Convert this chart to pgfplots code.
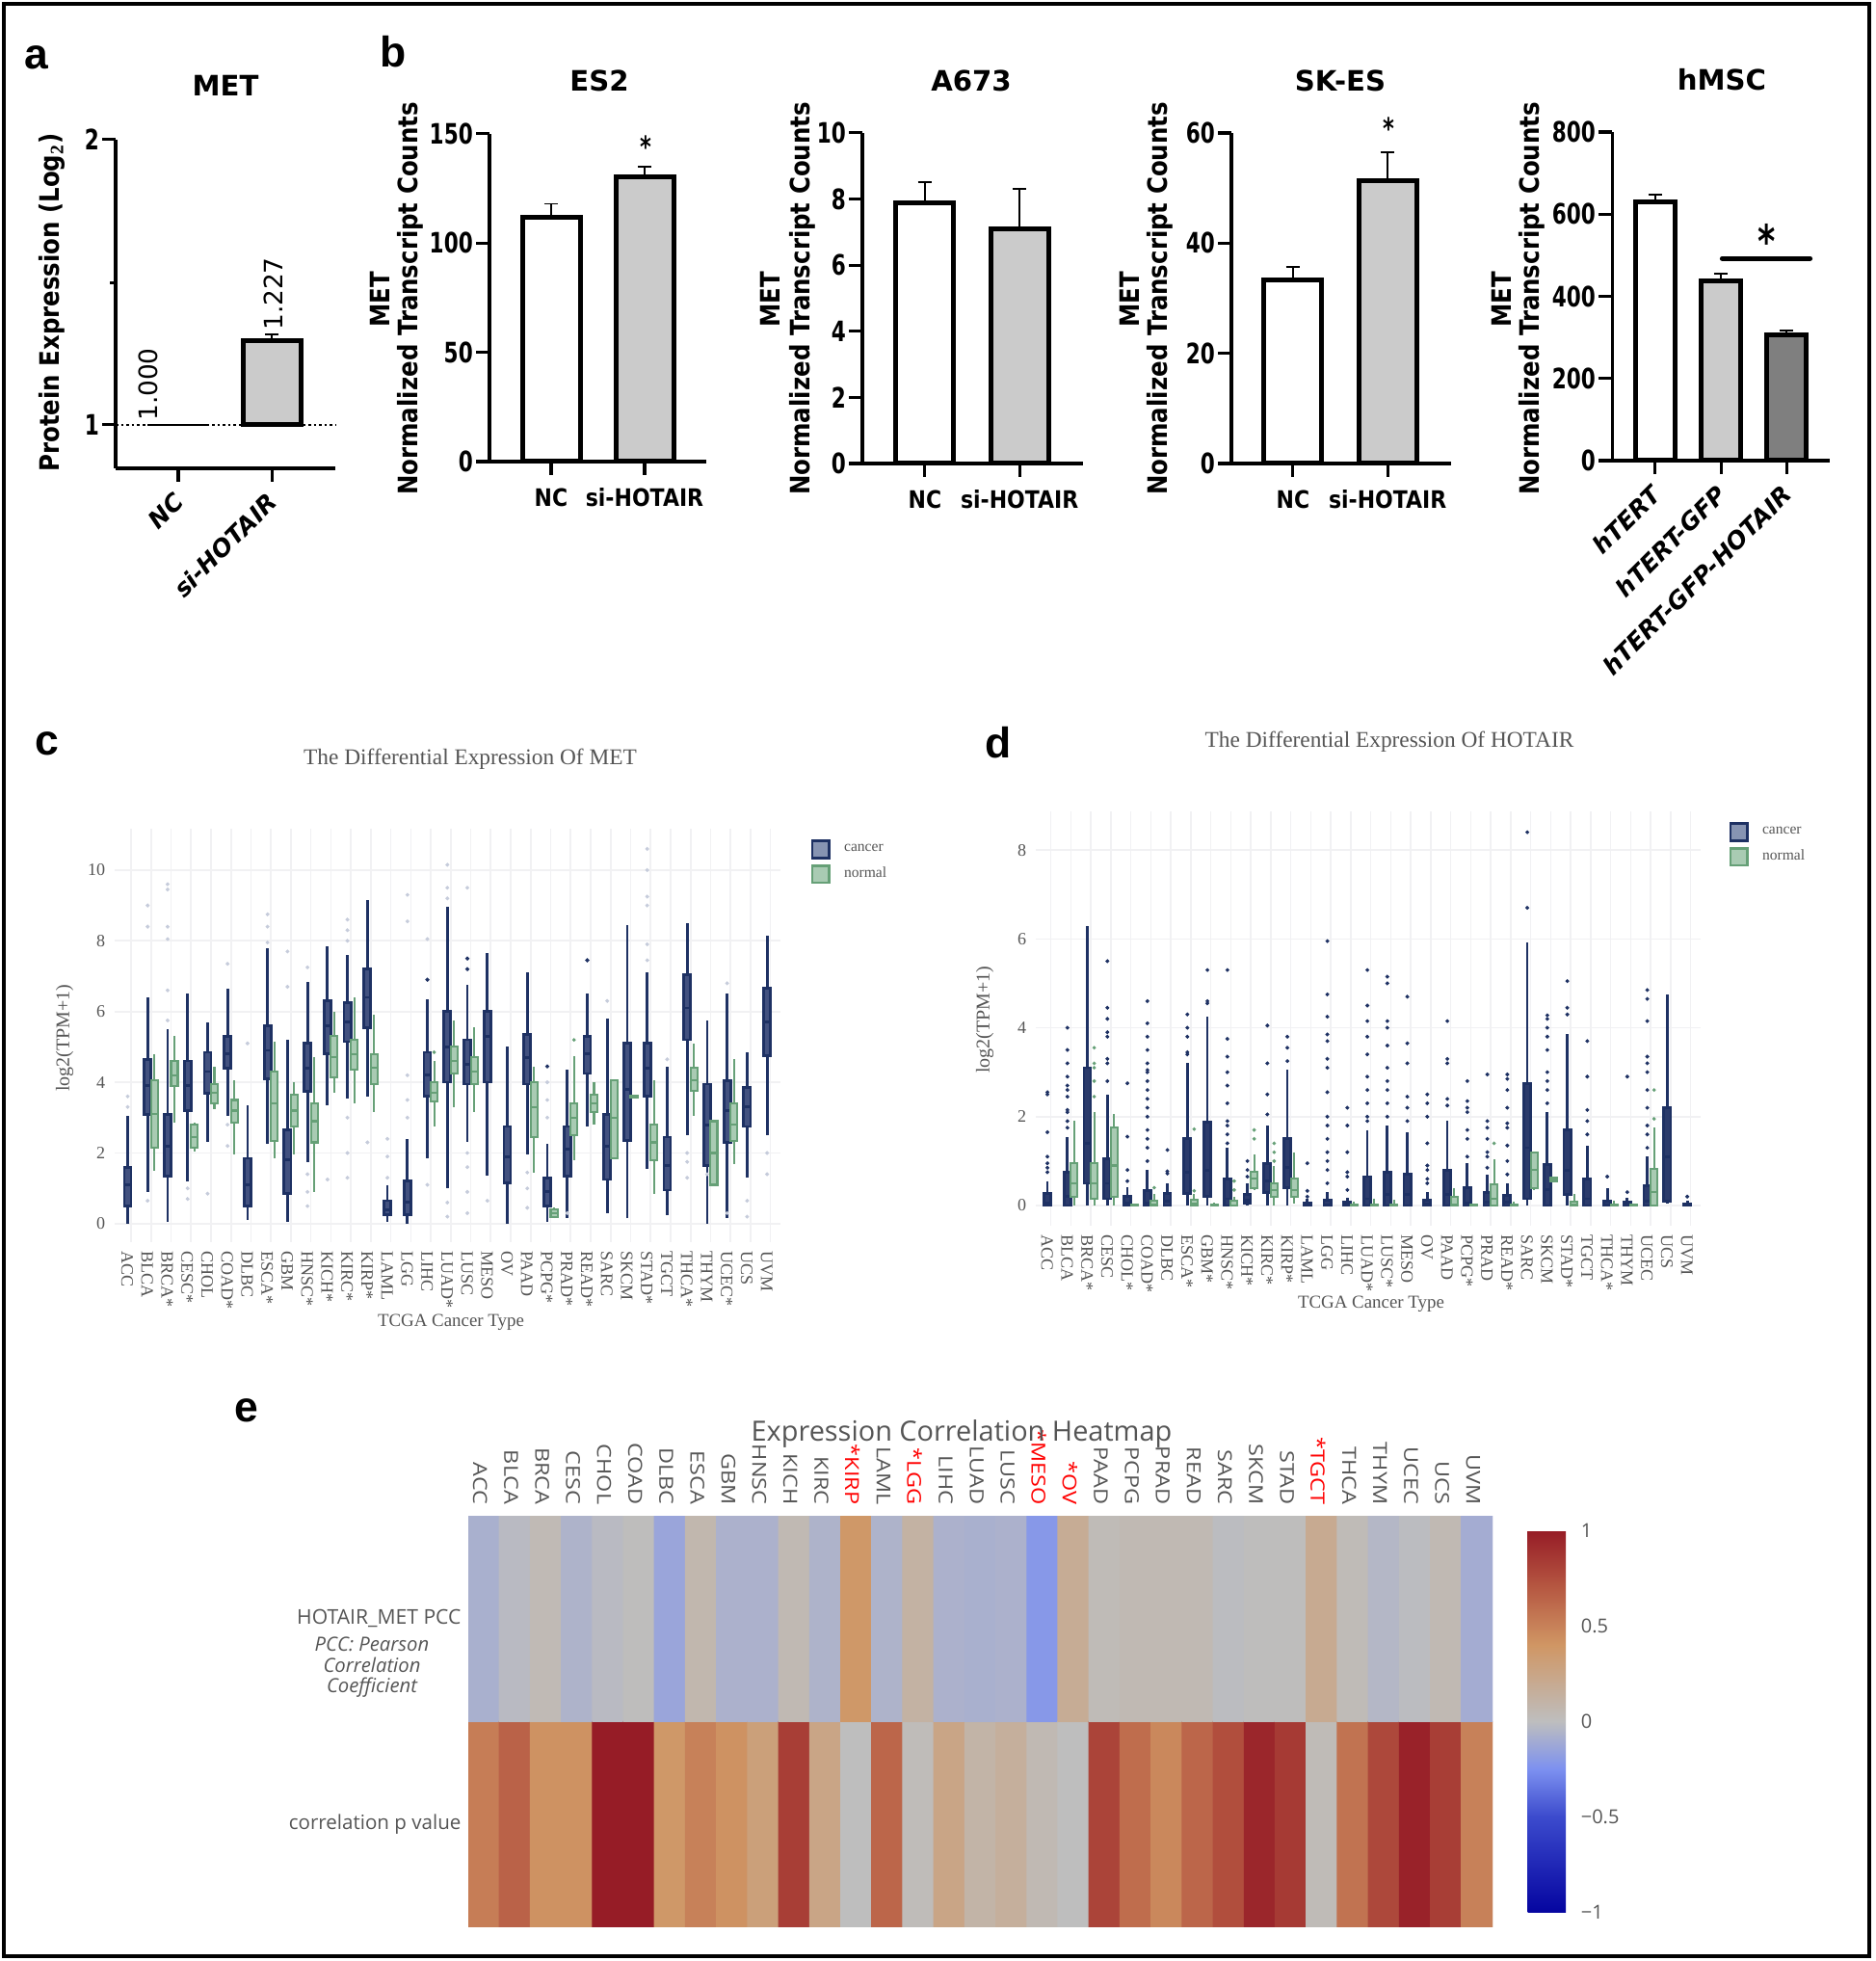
\documentclass[border=0pt]{standalone}
\usepackage{fontspec}
\usepackage{pgfplots}
\pgfplotsset{compat=1.18}
\usepgfplotslibrary{statistics}
\setmainfont{Liberation Serif}
\newfontfamily\gpfont{DejaVu Sans}
\newfontfamily\gpcond[FakeStretch=0.74]{DejaVu Sans}
\newfontfamily\gptick[FakeStretch=0.88]{DejaVu Sans}
\newfontfamily\gplab[FakeStretch=0.88]{DejaVu Sans}
\newfontfamily\arial{Liberation Sans}
\newfontfamily\osans{Open Sans}
\newfontfamily\oswide[FakeStretch=1.17]{Open Sans}
\newcommand\fs[1]{\fontsize{#1}{#1}\selectfont}

% page coordinates: 1 image pixel = 0.36pt, y counted from the top
\newcommand\X[1]{\fpeval{0.36*(#1)}pt}
\newcommand\Y[1]{\fpeval{0.36*(2035-#1)}pt}
\newcommand\W[1]{\fpeval{0.36*(#1)}pt}

\definecolor{navy}{HTML}{1E3163}
\definecolor{navyfill}{HTML}{8794B2}
\definecolor{grn}{HTML}{66A077}
\definecolor{grnfill}{HTML}{A9CBB3}
\definecolor{gridc}{HTML}{F1F1F3}
\definecolor{txt}{HTML}{555555}
\definecolor{barg}{HTML}{CBCBCB}
\definecolor{bard}{HTML}{7F7F7F}
\definecolor{outCfaint}{HTML}{C6CCDB}

\pgfplotsset{
  colormap={hm}{rgb255(0)=(5,5,160) rgb255(50)=(60,75,205) rgb255(75)=(125,145,240) rgb255(100)=(190,190,190)
    rgb255(140)=(208,150,100) rgb255(170)=(182,88,66) rgb255(200)=(150,28,38)},
  gpaxis/.style={
    scale only axis, ybar, bar shift=0pt, clip=false,
    axis lines=left, axis line style={-, line width=1.1pt},
    tick align=outside, major tick length=5pt,
    tick style={black, line width=1.1pt},
    /pgf/number format/assume math mode=true,
    yticklabel style={font=\gpcond\bfseries\fs{10.5}, inner sep=1pt},
    xticklabel style={font=\gptick\bfseries\fs{9}, yshift=-1.5pt},
    xtick={0,1},
  },
  errb/.style={line width=1.8pt, draw=black, error bars/.cd, y dir=plus, y explicit,
    error bar style={line width=.7pt, black, solid},
    error mark options={rotate=90, line width=.7pt, mark size=2.6pt, black}},
  tiltx/.style={xticklabel style={font=\gpfont\bfseries\itshape\fs{9}, rotate=45, anchor=north east, yshift=3.6pt, xshift=.5pt}},
  boxaxis/.style={
    scale only axis, clip=false,
    axis line style={draw=none}, major tick length=0pt,
    /pgf/number format/assume math mode=true,
    grid=major, grid style={gridc, line width=.6pt},
    xtick={0,...,32}, ytick={0,2,...,10},
    yticklabel style={font=\fs{6.5}, text=txt},
    xticklabel style={font=\fs{6.5}, text=txt, rotate=-90, anchor=west, inner sep=0pt, xshift=3.2pt, yshift=-1.4pt},
    legend cell align=left,
    legend style={draw=none, fill=none, anchor=north west, font=\fs{5.6}, text=txt, row sep=.4pt,
      /tikz/every odd column/.append style={column sep=3pt}},
    legend image code/.code={\draw[##1] (0pt,-3.2pt) rectangle (6.4pt,3.2pt);},
  },
  cancerbox/.style={draw=navy, fill=boxF, solid, line width=1pt},
  normalbox/.style={draw=grn, fill=grnfill, solid, line width=.75pt},
  cancerdots/.style={only marks, color=\outC, xshift=-1.27pt, mark=*, mark size=\outS, mark options={solid}},
  normaldots/.style={only marks, color=grn, xshift=1.27pt, mark=*, mark size=.45pt, mark options={solid}},
}
% position, low whisker, q1, median, q3, high whisker, outliers
\newcommand\boxC[7]{\addplot[cancerbox, boxplot prepared={draw direction=y, draw position=#1-0.17, box extend=0.34, whisker extend=0,
  lower whisker=#2, lower quartile=#3, median=#4, upper quartile=#5, upper whisker=#6}] coordinates {};
  \addplot[cancerdots] coordinates {#7};}
\newcommand\boxN[7]{\addplot[normalbox, boxplot prepared={draw direction=y, draw position=#1+0.17, box extend=0.34, whisker extend=0,
  lower whisker=#2, lower quartile=#3, median=#4, upper quartile=#5, upper whisker=#6}] coordinates {};
  \addplot[normaldots] coordinates {#7};}

\begin{document}
\begin{tikzpicture}
\useasboundingbox (0,0) rectangle (700.56pt,732.6pt);
\draw[line width=1.5pt] (\X{4},\Y{4}) rectangle (\X{1940},\Y{2030});

% ---- a
\begin{axis}[gpaxis, tiltx, at={(\X{120},\Y{486})}, width=\W{228}, height=\W{341},
  ymode=log, log basis y=2, ymin=0.9, ymax=2, xmin=-0.67, xmax=1.68, bar width=\W{60},
  ytick={1,2}, yticklabels={1,2}, extra y ticks={1.414}, extra y tick labels={},
  extra y tick style={major tick length=2pt},
  xticklabels={NC,si-HOTAIR}]
\addplot[fill=white, line width=.4pt, draw=black] coordinates {(0,1)};
\addplot[fill=barg, errb] coordinates {(1,1.227) +- (0,0.018)};
\addplot[sharp plot, densely dotted, line width=1pt, black] coordinates {(-0.67,1)(1.68,1)};
\end{axis}
\node[font=\gpfont\fs{9.5}, rotate=90] at (\X{154},\Y{399}) {1.000};
\node[font=\gpfont\fs{9.5}, rotate=90] at (\X{284},\Y{305}) {1.227};
\node[font=\gpfont\bfseries\fs{10.5}] at (\X{234},\Y{89}) {MET};
\node[font=\gplab\bfseries\fs{10}, rotate=90] at (\X{54},\Y{314}) {Protein Expression (Log$_{\mathbf 2}$)};
\node[font=\arial\bfseries\fs{16}] at (\X{38},\Y{60}) {a};
\node[font=\arial\bfseries\fs{16}] at (\X{408},\Y{54}) {b};
\node[font=\arial\bfseries\fs{16}] at (\X{49},\Y{772}) {c};
\node[font=\arial\bfseries\fs{16}] at (\X{1036},\Y{771}) {d};
\node[font=\arial\bfseries\fs{16}] at (\X{256},\Y{1464}) {e};

% ---- b, ES2
\begin{axis}[gpaxis, at={(\X{508},\Y{479})}, width=\W{225}, height=\W{340},
  ymin=0, ymax=150, xmin=-0.66, xmax=1.66, bar width=\W{60},
  ytick={0,50,100,150}, xticklabels={NC,si-HOTAIR}]
\addplot[fill=white, errb] coordinates {(0,112) +- (0,6)};
\addplot[fill=barg, errb] coordinates {(1,130.5) +- (0,4.5)};
\end{axis}
\node[font=\gpfont\bfseries\fs{10.5}] at (\X{622},\Y{84}) {ES2};
\node[font=\gpcond\bfseries\fs{11}] at (\X{670},\Y{152}) {*};
\node[font=\gplab\bfseries\fs{10}, rotate=90] at (\X{394},\Y{311}) {MET};
\node[font=\gplab\bfseries\fs{10}, rotate=90] at (\X{426},\Y{310}) {Normalized Transcript Counts};

% ---- b, A673
\begin{axis}[gpaxis, at={(\X{895},\Y{481})}, width=\W{229}, height=\W{343},
  ymin=0, ymax=10, xmin=-0.66, xmax=1.67, bar width=\W{60},
  ytick={0,2,...,10}, xticklabels={NC,si-HOTAIR}]
\addplot[fill=white, errb] coordinates {(0,7.9) +- (0,0.6)};
\addplot[fill=barg, errb] coordinates {(1,7.1) +- (0,1.2)};
\end{axis}
\node[font=\gpfont\bfseries\fs{10.5}] at (\X{1008},\Y{84}) {A673};
\node[font=\gplab\bfseries\fs{10}, rotate=90] at (\X{799},\Y{311}) {MET};
\node[font=\gplab\bfseries\fs{10}, rotate=90] at (\X{833},\Y{310}) {Normalized Transcript Counts};

% ---- b, SK-ES
\begin{axis}[gpaxis, at={(\X{1278},\Y{481})}, width=\W{228}, height=\W{343},
  ymin=0, ymax=60, xmin=-0.65, xmax=1.67, bar width=\W{60},
  ytick={0,20,40,60}, xticklabels={NC,si-HOTAIR}]
\addplot[fill=white, errb] coordinates {(0,33.3) +- (0,2.4)};
\addplot[fill=barg, errb] coordinates {(1,51.3) +- (0,5.2)};
\end{axis}
\node[font=\gpfont\bfseries\fs{10.5}] at (\X{1391},\Y{84}) {SK-ES};
\node[font=\gpcond\bfseries\fs{11}] at (\X{1441},\Y{133}) {*};
\node[font=\gplab\bfseries\fs{10}, rotate=90] at (\X{1172},\Y{311}) {MET};
\node[font=\gplab\bfseries\fs{10}, rotate=90] at (\X{1204},\Y{310}) {Normalized Transcript Counts};

% ---- b, hMSC
\begin{axis}[gpaxis, tiltx, at={(\X{1673},\Y{478})}, width=\W{226}, height=\W{341},
  ymin=0, ymax=800, xmin=-0.66, xmax=2.66, bar width=\W{41},
  ytick={0,200,...,800}, xtick={0,1,2}, xticklabels={hTERT,hTERT-GFP,hTERT-GFP-HOTAIR}]
\addplot[fill=white, errb] coordinates {(0,630) +- (0,18)};
\addplot[fill=barg, errb] coordinates {(1,438) +- (0,16)};
\addplot[fill=bard, errb] coordinates {(2,306) +- (0,10)};
\addplot[sharp plot, line width=1.8pt, black, line cap=round] coordinates {(1.02,492)(2.36,492)};
\end{axis}
\node[font=\gpfont\bfseries\fs{10.5}] at (\X{1787},\Y{83}) {hMSC};
\node[font=\gpcond\bfseries\fs{17}] at (\X{1834},\Y{250}) {*};
\node[font=\gplab\bfseries\fs{10}, rotate=90] at (\X{1558},\Y{311}) {MET};
\node[font=\gplab\bfseries\fs{10}, rotate=90] at (\X{1590},\Y{310}) {Normalized Transcript Counts};

% ---- c
\def\outC{outCfaint}
\definecolor{boxF}{HTML}{42517F}
\def\outS{.5pt}
\begin{axis}[boxaxis, at={(\X{119},\Y{1289})}, width=\W{691}, height=\W{429},
  xmin=-0.82, xmax=32.5, ymin=-0.52, ymax=11.17,
  legend style={at={(axis description cs:1.033,0.99)}},
  xticklabels={ACC,BLCA,BRCA*,CESC*,CHOL,COAD*,DLBC,ESCA*,GBM,HNSC*,KICH*,KIRC*,KIRP*,LAML,LGG,LIHC,LUAD*,LUSC,MESO,OV,PAAD,PCPG*,PRAD*,READ*,SARC,SKCM,STAD*,TGCT,THCA*,THYM,UCEC*,UCS,UVM}]
\addlegendimage{draw=navy, fill=navyfill, line width=1pt}
\addlegendentry{cancer}
\addlegendimage{draw=grn, fill=grnfill, line width=1pt}
\addlegendentry{normal}
\boxC{0}{0}{0.5}{1.1}{1.6}{3.05}{(0,3.3)(0,3.6)}
\boxC{1}{0.9}{3.1}{3.9}{4.65}{6.4}{(1,8.4)(1,9)(1,0.65)}
\boxN{1}{1.5}{2.15}{3.1}{4.05}{4.8}{}
\boxC{2}{0.05}{1.35}{2.2}{3.1}{5.5}{(2,8.05)(2,8.4)(2,9.45)(2,9.6)(2,6.6)(2,5.75)}
\boxN{2}{2.85}{3.9}{4.2}{4.6}{5.3}{}
\boxC{3}{1.2}{3.2}{3.9}{4.6}{6.5}{(3,1)(3,0.7)}
\boxN{3}{2.05}{2.15}{2.45}{2.8}{2.85}{}
\boxC{4}{2.3}{3.7}{4.3}{4.85}{5.7}{(4,0.85)}
\boxN{4}{3.25}{3.4}{3.7}{3.95}{4.45}{}
\boxC{5}{3.05}{4.4}{4.8}{5.3}{6.65}{(5,7.35)(5,2.2)(5,2.8)}
\boxN{5}{1.95}{2.85}{3.2}{3.5}{4.05}{}
\boxC{6}{0.1}{0.5}{1.1}{1.85}{3.35}{(6,5.1)}
\boxC{7}{2.25}{4.1}{4.9}{5.6}{7.8}{(7,8.4)(7,8.75)(7,7.95)}
\boxN{7}{1.85}{2.35}{3.4}{4.3}{5.15}{}
\boxC{8}{0.05}{0.85}{1.8}{2.65}{5.2}{(8,6.7)(8,7.7)}
\boxN{8}{1.95}{2.75}{3.2}{3.65}{4}{}
\boxC{9}{1.75}{3.75}{4.4}{5.1}{6.85}{(9,7.25)(9,1.4)(9,0.5)(9,0.9)}
\boxN{9}{0.9}{2.3}{2.9}{3.4}{4.7}{}
\boxC{10}{3.35}{4.8}{5.6}{6.3}{7.85}{(10,1.25)}
\boxN{10}{3.7}{4.15}{4.7}{5.3}{6}{}
\boxC{11}{3.55}{5.15}{5.7}{6.25}{7.6}{(11,8)(11,8.3)(11,8.6)(11,1.3)(11,2)(11,3)}
\boxN{11}{3.4}{4.35}{4.8}{5.2}{6.4}{}
\boxC{12}{3.6}{5.55}{6.4}{7.2}{9.15}{(12,2.3)}
\boxN{12}{3.15}{3.95}{4.4}{4.8}{5.9}{}
\boxC{13}{0.05}{0.25}{0.4}{0.65}{1.1}{(13,1.3)(13,1.9)(13,2.4)}
\boxC{14}{0}{0.25}{0.6}{1.2}{2.4}{(14,8.55)(14,9.3)(14,4.2)(14,3.5)(14,3)}
\boxC{15}{1.85}{3.6}{4.2}{4.85}{6.35}{(15,8.05)(15,1.1)}
\boxN{15}{2.75}{3.45}{3.7}{4}{4.6}{(15,4.85)}
\boxC{16}{1}{4}{5}{6}{8.95}{(16,9.2)(16,9.5)(16,10.15)(16,0.2)(16,0.6)}
\boxN{16}{3.3}{4.25}{4.6}{5}{5.75}{}
\boxC{17}{2.3}{3.95}{4.5}{5.2}{6.75}{(17,9.5)(17,0.9)(17,0.3)(17,1.6)(17,2)}
\boxN{17}{3.15}{3.95}{4.3}{4.7}{5.55}{}
\boxC{18}{1.35}{4}{5.3}{6}{7.65}{(18,0.65)}
\boxC{19}{0}{1.15}{1.9}{2.75}{5}{}
\boxC{20}{1.95}{3.95}{4.7}{5.35}{7.1}{(20,0.45)(20,1)(20,1.45)}
\boxN{20}{1.45}{2.45}{3.3}{4}{4.45}{}
\boxC{21}{0.05}{0.5}{0.9}{1.3}{2.25}{(21,3)(21,3.5)(21,4)}
\boxN{21}{0.15}{0.2}{0.3}{0.4}{0.45}{}
\boxC{22}{0.15}{1.35}{2.1}{2.75}{4.35}{(22,0.3)}
\boxN{22}{1.8}{2.5}{3}{3.4}{4.75}{(22,5.2)}
\boxC{23}{2.75}{4.25}{4.8}{5.3}{6.5}{}
\boxN{23}{2.8}{3.15}{3.4}{3.65}{4}{}
\boxC{24}{0.3}{1.25}{2.2}{3.1}{5.8}{(24,6.3)}
\boxN{24}{1.85}{1.85}{3}{4.05}{4.05}{}
\boxC{25}{0.15}{2.35}{3.8}{5.1}{8.45}{}
\boxN{25}{3.58}{3.58}{3.6}{3.62}{3.62}{}
\boxC{26}{1.55}{3.6}{4.4}{5.1}{7.1}{(26,7.9)(26,7.45)(26,9)(26,9.25)(26,10)(26,10.6)}
\boxN{26}{0.85}{1.8}{2.3}{2.8}{4.05}{}
\boxC{27}{0.25}{0.95}{1.65}{2.45}{4.45}{(27,4.65)}
\boxC{28}{2.5}{5.2}{6.1}{7.05}{8.5}{(28,1.3)(28,1.75)(28,2)}
\boxN{28}{3.05}{3.75}{4.05}{4.4}{5.1}{}
\boxC{29}{0}{1.65}{2.8}{3.95}{5.75}{(29,1.4)}
\boxN{29}{1.1}{1.1}{2}{2.9}{2.9}{}
\boxC{30}{0.15}{2.3}{3.2}{4.05}{6.5}{(30,6.8)(30,0.3)}
\boxN{30}{1.7}{2.35}{2.8}{3.4}{4.65}{}
\boxC{31}{1.3}{2.75}{3.3}{3.85}{4.85}{(31,0.65)(31,0.2)}
\boxC{32}{2.5}{4.75}{5.7}{6.65}{8.15}{(32,1.4)(32,2)}
% the few dark outliers
\addplot[only marks, color=navy, xshift=-1.27pt, mark=*, mark size=.55pt] coordinates {(15,6.9)(17,7.5)(17,7.2)(21,4.45)(23,7.45)};
\end{axis}
\node[font=\fs{8.4}, text=txt] at (\X{488},\Y{788}) {The Differential Expression Of MET};
\node[font=\fs{6.8}, text=txt] at (\X{468},\Y{1372}) {TCGA Cancer Type};
\node[font=\fs{7.2}, text=txt, rotate=90] at (\X{67},\Y{1077}) {log2(TPM+1)};

% ---- d
\def\outC{navy}
\definecolor{boxF}{HTML}{2B3B6B}
\def\outS{.5pt}
\begin{axis}[boxaxis, at={(\X{1075},\Y{1272})}, width=\W{690}, height=\W{430},
  xmin=-0.75, xmax=32.5, ymin=-0.455, ymax=8.87, ytick={0,2,...,8},
  legend style={at={(axis description cs:1.03,0.99)}},
  xticklabels={ACC,BLCA,BRCA*,CESC,CHOL*,COAD*,DLBC,ESCA*,GBM*,HNSC*,KICH*,KIRC*,KIRP*,LAML,LGG,LIHC,LUAD*,LUSC*,MESO,OV,PAAD,PCPG*,PRAD,READ*,SARC,SKCM,STAD*,TGCT,THCA*,THYM,UCEC,UCS,UVM}]
\addlegendimage{draw=navy, fill=navyfill, line width=1pt}
\addlegendentry{cancer}
\addlegendimage{draw=grn, fill=grnfill, line width=1pt}
\addlegendentry{normal}
\boxC{0}{0}{0}{0.05}{0.27}{0.55}{(0,0.75)(0,0.85)(0,0.95)(0,1.1)(0,1.65)(0,2.5)(0,2.55)}
\boxC{1}{0}{0}{0.2}{0.75}{1.55}{(1,1.75)(1,1.9)(1,2.1)(1,2.15)(1,2.45)(1,2.6)(1,2.7)(1,2.9)(1,3.2)(1,3.5)(1,4)}
\boxN{1}{0}{0.2}{0.5}{0.95}{1.9}{}
\boxC{2}{0}{0.5}{1.4}{3.1}{6.3}{}
\boxN{2}{0}{0.15}{0.5}{0.95}{2.1}{(2,2.45)(2,2.8)(2,3.1)(2,3.2)(2,3.55)}
\boxC{3}{0}{0.15}{0.5}{1.05}{2.5}{(3,2.8)(3,3.2)(3,3.3)(3,3.8)(3,3.9)(3,4.2)(3,4.45)(3,5.5)}
\boxN{3}{0}{0.2}{0.9}{1.75}{2.05}{}
\boxC{4}{0}{0}{0.05}{0.2}{0.42}{(4,0.55)(4,0.8)(4,1.55)(4,2.75)}
\boxN{4}{0}{0}{0}{0.02}{0.04}{}
\boxC{5}{0}{0}{0.05}{0.33}{0.8}{(5,1)(5,1.3)(5,1.5)(5,1.7)(5,2)(5,2.2)(5,2.4)(5,2.6)(5,2.8)(5,3)(5,3.05)(5,3.2)(5,3.5)(5,3.8)(5,4.1)(5,4.6)}
\boxN{5}{0}{0}{0.03}{0.1}{0.25}{(5,0.4)}
\boxC{6}{0}{0}{0.1}{0.27}{0.5}{(6,0.72)(6,0.77)(6,1.25)}
\boxC{7}{0}{0.27}{0.75}{1.5}{3.2}{(7,3.4)(7,3.45)(7,3.8)(7,4)(7,4.3)}
\boxN{7}{0}{0}{0.05}{0.13}{0.25}{(7,0.33)(7,1.72)}
\boxC{8}{0}{0.2}{0.8}{1.88}{4.25}{(8,4.55)(8,4.6)(8,5.3)}
\boxN{8}{0}{0}{0}{0.03}{0.06}{}
\boxC{9}{0}{0}{0.15}{0.6}{1.3}{(9,1.4)(9,1.6)(9,1.8)(9,1.9)(9,2.3)(9,2.7)(9,3)(9,3.35)(9,3.75)(9,5.3)}
\boxN{9}{0}{0}{0}{0.1}{0.2}{(9,0.35)(9,0.55)}
\boxC{10}{0}{0.05}{0.12}{0.25}{0.5}{(10,0.65)(10,0.8)(10,1)}
\boxN{10}{0.35}{0.4}{0.6}{0.75}{1.15}{(10,1.5)(10,1.7)}
\boxC{11}{0}{0.3}{0.55}{0.95}{1.8}{(11,2.05)(11,2.5)(11,3.2)(11,4.05)}
\boxN{11}{0}{0.2}{0.35}{0.5}{0.9}{(11,1)(11,1.2)(11,1.4)}
\boxC{12}{0}{0.4}{0.85}{1.5}{3.05}{(12,3.25)(12,3.55)(12,3.8)}
\boxN{12}{0.05}{0.2}{0.35}{0.6}{1.2}{}
\boxC{13}{0}{0}{0.02}{0.05}{0.15}{(13,0.2)(13,0.33)(13,0.95)}
\boxC{14}{0}{0}{0.02}{0.12}{0.3}{(14,0.5)(14,0.8)(14,1)(14,1.2)(14,1.5)(14,1.8)(14,2)(14,2.55)(14,3.1)(14,3.3)(14,3.7)(14,3.85)(14,4.25)(14,4.75)(14,5.95)}
\boxC{15}{0}{0}{0.02}{0.08}{0.18}{(15,0.35)(15,0.65)(15,0.75)(15,1.2)(15,1.8)(15,2.2)}
\boxN{15}{0}{0}{0}{0.03}{0.08}{}
\boxC{16}{0}{0}{0.15}{0.65}{1.7}{(16,1.9)(16,2)(16,2.3)(16,2.6)(16,2.9)(16,3.4)(16,3.8)(16,4.15)(16,4.5)(16,5.3)}
\boxN{16}{0}{0}{0}{0.03}{0.16}{}
\boxC{17}{0}{0}{0.25}{0.75}{1.8}{(17,2)(17,2.3)(17,2.6)(17,2.8)(17,3.1)(17,3.6)(17,4)(17,4.15)(17,5)(17,5.15)}
\boxN{17}{0}{0}{0}{0.02}{0.13}{}
\boxC{18}{0}{0}{0.25}{0.7}{1.65}{(18,1.9)(18,2.2)(18,2.45)(18,3.2)(18,3.65)(18,4.7)}
\boxC{19}{0}{0}{0.03}{0.12}{0.3}{(19,0.5)(19,0.6)(19,0.8)(19,0.9)(19,1.4)(19,2)(19,2.3)(19,2.5)}
\boxC{20}{0}{0}{0.25}{0.8}{1.9}{(20,2.25)(20,2.4)(20,3.2)(20,3.3)(20,4.15)}
\boxN{20}{0}{0}{0.02}{0.2}{0.4}{}
\boxC{21}{0}{0}{0.05}{0.4}{0.95}{(21,1.1)(21,1.5)(21,1.7)(21,2.1)(21,2.2)(21,2.35)(21,2.8)}
\boxN{21}{0}{0}{0}{0.02}{0.04}{}
\boxC{22}{0}{0}{0.08}{0.3}{0.7}{(22,0.85)(22,1.1)(22,1.2)(22,1.5)(22,1.75)(22,1.9)(22,2.95)}
\boxN{22}{0}{0}{0.15}{0.47}{1.05}{(22,1.4)}
\boxC{23}{0}{0}{0.08}{0.22}{0.5}{(23,0.7)(23,1)(23,1.35)(23,1.75)(23,1.85)(23,2.2)(23,2.6)(23,2.85)(23,2.95)}
\boxN{23}{0}{0}{0}{0.03}{0.08}{}
\boxC{24}{0}{0.15}{1.3}{2.75}{5.92}{(24,6.7)(24,8.4)}
\boxN{24}{0.35}{0.4}{0.8}{1.2}{1.2}{}
\boxC{25}{0}{0}{0.35}{0.92}{2.1}{(25,2.3)(25,2.6)(25,2.8)(25,3)(25,3.5)(25,3.8)(25,4)(25,4.2)(25,4.28)}
\boxN{25}{0.55}{0.55}{0.58}{0.62}{0.62}{}
\boxC{26}{0}{0.25}{0.8}{1.7}{3.85}{(26,4.3)(26,4.45)(26,5.05)}
\boxN{26}{0}{0}{0.03}{0.08}{0.25}{}
\boxC{27}{0}{0}{0.15}{0.6}{1.35}{(27,1.6)(27,1.9)(27,2.15)(27,2.9)(27,3.7)}
\boxC{28}{0}{0}{0.02}{0.1}{0.38}{(28,0.65)}
\boxN{28}{0}{0}{0}{0.02}{0.1}{}
\boxC{29}{0}{0}{0.02}{0.08}{0.18}{(29,0.3)(29,2.9)}
\boxN{29}{0}{0}{0}{0.03}{0.05}{}
\boxC{30}{0}{0}{0.1}{0.45}{1.1}{(30,1.3)(30,1.6)(30,1.8)(30,2.2)(30,2.6)(30,3)(30,3.2)(30,3.35)(30,4.15)(30,4.65)(30,4.85)}
\boxN{30}{0}{0}{0.3}{0.82}{1.75}{(30,1.95)(30,2.6)}
\boxC{31}{0.05}{0.1}{1.1}{2.2}{4.75}{}
\boxC{32}{0}{0}{0.01}{0.04}{0.1}{(32,0.2)}
\end{axis}
\node[font=\fs{8.4}, text=txt] at (\X{1442},\Y{770}) {The Differential Expression Of HOTAIR};
\node[font=\fs{6.8}, text=txt] at (\X{1423},\Y{1353}) {TCGA Cancer Type};
\node[font=\fs{7.2}, text=txt, rotate=90] at (\X{1022},\Y{1058}) {log2(TPM+1)};

% ---- e
\begin{axis}[at={(\X{486},\Y{2000})}, width=\W{1063}, height=\W{427}, scale only axis,
  xmin=-0.5, xmax=32.5, ymin=-0.5, ymax=1.5,
  colormap name=hm, point meta min=-1, point meta max=1,
  axis line style={draw=none}, major tick length=0pt, ytick=\empty,
  xtick={0,...,32}, xticklabel pos=top,
  xticklabel style={font=\oswide\fs{7.2}, text=txt, rotate=-90, anchor=east, inner sep=0pt, yshift=-1.4pt, xshift=-4pt},
  xticklabels={ACC,BLCA,BRCA,CESC,CHOL,COAD,DLBC,ESCA,GBM,HNSC,KICH,KIRC,\textcolor{red}{*KIRP},LAML,\textcolor{red}{*LGG},LIHC,LUAD,LUSC,\textcolor{red}{*MESO},\textcolor{red}{*OV},PAAD,PCPG,PRAD,READ,SARC,SKCM,STAD,\textcolor{red}{*TGCT},THCA,THYM,UCEC,UCS,UVM},
  colorbar, colorbar style={at={(parent axis.north east)}, anchor=north west,
    xshift=\W{13}, yshift=-\W{15}, width=\W{59}, height=\W{396},
    ytick={-1,-0.5,0,0.5,1}, yticklabels={−1,−0.5,0,0.5,1}, major tick length=0pt,
    axis line style={draw=none},
    yticklabel style={font=\osans\fs{7.2}, text=txt, inner sep=1pt, xshift=-2.6pt}}]
\addplot[matrix plot*, mesh/cols=33, mesh/ordering=x varies, point meta=explicit] coordinates {
(0,0)[0.52] (1,0)[0.65] (2,0)[0.42] (3,0)[0.42] (4,0)[1] (5,0)[1] (6,0)[0.38] (7,0)[0.5] (8,0)[0.42] (9,0)[0.3] (10,0)[0.83]
(11,0)[0.25] (12,0)[0] (13,0)[0.63] (14,0)[0.02] (15,0)[0.25] (16,0)[0.1] (17,0)[0.15] (18,0)[0.05] (19,0)[0] (20,0)[0.8] (21,0)[0.6]
(22,0)[0.47] (23,0)[0.63] (24,0)[0.75] (25,0)[0.95] (26,0)[0.85] (27,0)[0.03] (28,0)[0.57] (29,0)[0.78] (30,0)[0.97] (31,0)[0.83] (32,0)[0.5]
(0,1)[-0.08] (1,1)[-0.02] (2,1)[0.04] (3,1)[-0.06] (4,1)[-0.02] (5,1)[0.01] (6,1)[-0.14] (7,1)[0.07] (8,1)[-0.07] (9,1)[-0.07] (10,1)[0.05]
(11,1)[-0.06] (12,1)[0.38] (13,1)[-0.06] (14,1)[0.12] (15,1)[-0.07] (16,1)[-0.08] (17,1)[-0.07] (18,1)[-0.21] (19,1)[0.18] (20,1)[0.03] (21,1)[0.05]
(22,1)[0.05] (23,1)[0.05] (24,1)[-0.01] (25,1)[0.01] (26,1)[0.01] (27,1)[0.2] (28,1)[0.03] (29,1)[-0.04] (30,1)[-0.01] (31,1)[0.05] (32,1)[-0.1]
};
\end{axis}
\node[font=\osans\fs{10.4}, text=txt] at (\X{998},\Y{1488}) {Expression Correlation Heatmap};
\node[font=\osans\fs{7.6}, text=txt, anchor=east, inner sep=0pt] at (\X{479},\Y{1679}) {HOTAIR\_MET PCC};
\node[font=\osans\itshape\fs{7.3}, text=txt] at (\X{386},\Y{1706}) {PCC: Pearson};
\node[font=\osans\itshape\fs{7.3}, text=txt] at (\X{386},\Y{1728}) {Correlation};
\node[font=\osans\itshape\fs{7.3}, text=txt] at (\X{386},\Y{1751}) {Coefficient};
\node[font=\osans\fs{7.4}, text=txt, anchor=east, inner sep=0pt] at (\X{479},\Y{1893}) {correlation p value};
\end{tikzpicture}
\end{document}
